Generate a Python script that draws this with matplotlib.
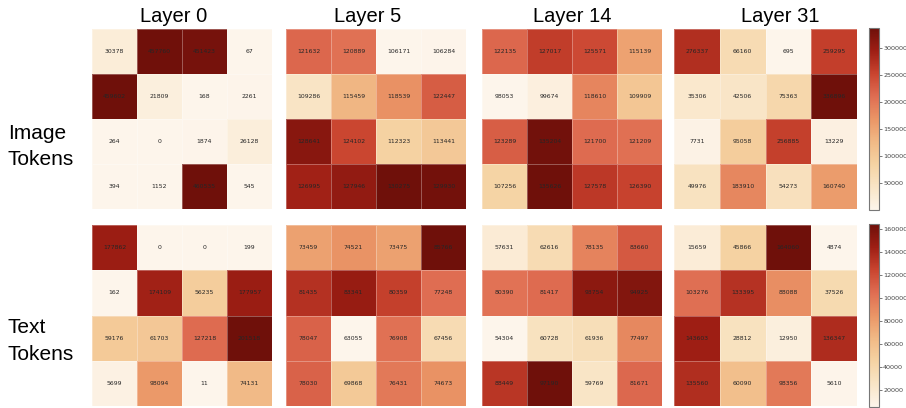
"""Attention-count heatmaps per layer, image vs text tokens."""
import numpy as np
import matplotlib
matplotlib.use("Agg")
import matplotlib.pyplot as plt
from matplotlib.colors import LinearSegmentedColormap

layers = ["Layer 0", "Layer 5", "Layer 14", "Layer 31"]
rows = [["Image", "Tokens"], ["Text", "Tokens"]]

image_l0 = [[30378, 457760, 451423, 67],
            [459602, 21809, 168, 2261],
            [264, 0, 1874, 26128],
            [394, 1152, 460535, 545]]
image_l5 = [[121632, 120889, 106171, 106284],
            [109286, 115459, 118539, 122447],
            [128641, 124102, 112323, 113441],
            [126995, 127946, 130275, 129930]]
image_l14 = [[122135, 127017, 125571, 115139],
             [98053, 99674, 118610, 109909],
             [123289, 135204, 121700, 121209],
             [107256, 135626, 127578, 126390]]
image_l31 = [[276337, 66160, 695, 259295],
             [35306, 42506, 75363, 336896],
             [7731, 95058, 256885, 13229],
             [49976, 183910, 54273, 160740]]

text_l0 = [[177862, 0, 0, 199],
           [162, 174109, 56235, 177957],
           [59176, 61703, 127218, 201518],
           [5699, 98094, 11, 74131]]
text_l5 = [[73459, 74521, 73475, 85766],
           [81435, 83341, 80359, 77248],
           [78047, 63055, 76908, 67456],
           [78030, 69868, 76431, 74673]]
text_l14 = [[57631, 62616, 78135, 83660],
            [80390, 81417, 93754, 94925],
            [54304, 60728, 61936, 77497],
            [88449, 97190, 59769, 81671]]
text_l31 = [[15659, 45866, 164060, 4874],
            [103276, 133395, 88088, 37526],
            [143603, 28812, 12950, 136347],
            [135560, 60090, 98356, 5610]]

grid = [[image_l0, image_l5, image_l14, image_l31],
        [text_l0, text_l5, text_l14, text_l31]]
cbar_ticks = [[50000, 100000, 150000, 200000, 250000, 300000],
              [20000, 40000, 60000, 80000, 100000, 120000, 140000, 160000]]

W, H = 906, 408
fig = plt.figure(figsize=(W / 100, H / 100), dpi=100)

def px(x, y, w, h):
    return [x / W, 1 - (y + h) / H, w / W, h / H]

col_x = [92, 286, 482, 674]
col_w = [180, 180, 180, 183]
row_y = [29, 225]
row_h = [180, 181]
# OrRd-like, a bit muted in the top half as in the source figure
cmap = LinearSegmentedColormap.from_list("orrd_muted", [
    "#fdf5eb", "#f9e5c6", "#f5d3a3", "#f1b985", "#ea9566",
    "#df6d52", "#c9442f", "#9e1e14", "#6f100a"])

for r in range(2):
    for c in range(4):
        data = np.array(grid[r][c])
        ax = fig.add_axes(px(col_x[c], row_y[r], col_w[c], row_h[r]))
        mesh = ax.pcolormesh(data, cmap=cmap, vmin=data.min(), vmax=data.max(),
                             edgecolors=(1, 1, 1, 0.3), linewidth=0.6)
        ax.set_xlim(0, 4); ax.set_ylim(4, 0)
        for i in range(4):
            for j in range(4):
                ax.text(j + 0.5, i + 0.5, str(data[i, j]), ha="center", va="center",
                        fontsize=4.4, color="#262626")
        ax.set_xticks([]); ax.set_yticks([])
        for s in ax.spines.values():
            s.set_visible(False)
        if c == 3:
            cax = fig.add_axes(px(869, row_y[r] - 1, 10, row_h[r] + 2))
            cb = fig.colorbar(mesh, cax=cax, ticks=cbar_ticks[r])
            cb.outline.set_edgecolor("#777777")
            cb.outline.set_linewidth(0.8)
            cax.tick_params(labelsize=4.6, length=2, width=0.5, pad=1,
                            colors="#444444")

title_x = [174, 368, 572, 780]
for name, x in zip(layers, title_x):
    fig.text(x / W, 1 - 22 / H, name, ha="center", va="baseline",
             fontsize=14.5, family="Liberation Sans")

label_base = [[139, 165], [333, 360]]
for lines, ys in zip(rows, label_base):
    for t, y in zip(lines, ys):
        fig.text(8 / W, 1 - y / H, t, ha="left", va="baseline",
                 fontsize=15, family="Liberation Sans")

fig.savefig("out.png", dpi=100)
